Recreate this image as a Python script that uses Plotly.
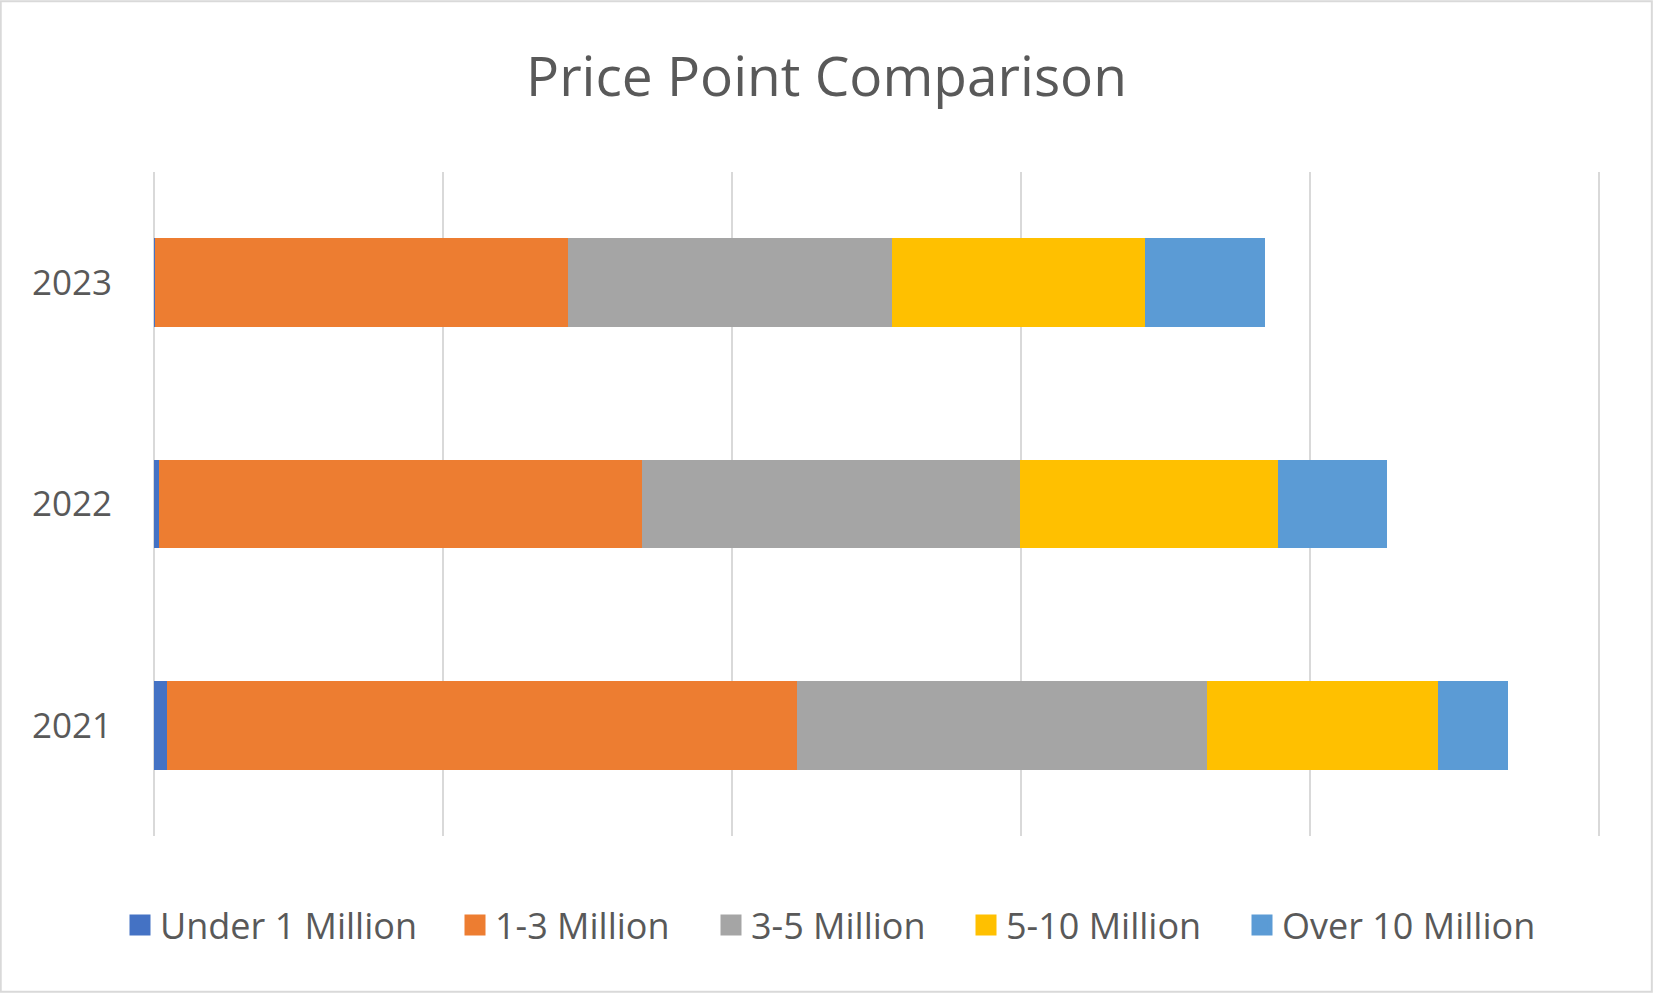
import plotly.graph_objects as go

years = ["2021", "2022", "2023"]
series_names = ["Under 1 Million", "1-3 Million", "3-5 Million", "5-10 Million", "Over 10 Million"]
under_1m = [4.4, 1.8, 0.4]
m1_3 = [218, 167, 143]
m3_5 = [142, 131, 112]
m5_10 = [80, 89, 87.5]
over_10m = [24, 38, 41.5]
colors = ["#4472C4", "#ED7D31", "#A5A5A5", "#FFC000", "#5B9BD5"]

W, H = 1653, 993
ml, mr, mt, mb = 153, 53, 172, 157
pw, ph = W - ml - mr, H - mt - mb

# legend marker centres (pixels)
legend_px = [140, 475, 731, 986, 1262]
legend_ids = ["legend", "legend2", "legend3", "legend4", "legend5"]

fig = go.Figure()
for name, vals, col in zip(series_names, [under_1m, m1_3, m3_5, m5_10, over_10m], colors):
    fig.add_trace(go.Bar(y=years, x=vals, name=name, orientation="h", showlegend=False,
                         marker=dict(color=col, line=dict(width=0))))
for name, col, lid in zip(series_names, colors, legend_ids):
    fig.add_trace(go.Scatter(x=[None], y=[None], mode="markers", name=name, legend=lid,
                             marker=dict(symbol="square", size=16, color=col,
                                         line=dict(color=col, width=5))))

legend_y = (836 - 925) / ph
legend_layout = {}
for lid, px in zip(legend_ids, legend_px):
    legend_layout[lid] = dict(orientation="h", x=(px - 20 - ml) / pw, xanchor="left",
                              y=legend_y, yanchor="middle", bgcolor="rgba(0,0,0,0)",
                              font=dict(size=36, color="#595959"), itemwidth=30)

fig.update_layout(
    barmode="stack",
    bargap=0.6,
    width=W, height=H,
    margin=dict(l=ml, r=mr, t=mt, b=mb),
    paper_bgcolor="white", plot_bgcolor="white",
    font=dict(family="Open Sans", color="#595959"),
    title=dict(text="Price Point Comparison", x=0.5, xanchor="center",
               y=1 - 77 / H, yanchor="middle",
               font=dict(size=55, color="#595959", family="Open Sans")),
    xaxis=dict(range=[-0.4, 500.4], dtick=100, tick0=0, showticklabels=False, showgrid=True,
               gridcolor="#D9D9D9", gridwidth=2, zeroline=False, showline=False, ticks=""),
    yaxis=dict(showgrid=False, zeroline=False, showline=False, ticks="",
               tickfont=dict(size=35, color="#595959"), ticklabelstandoff=40),
    showlegend=True,
    **legend_layout,
)
fig.add_shape(type="rect", xref="paper", yref="paper",
              x0=-ml / pw + 0.0005, x1=1 + mr / pw - 0.0008,
              y0=-mb / ph + 0.002, y1=1 + mt / ph - 0.002,
              line=dict(color="#D9D9D9", width=2), fillcolor="rgba(0,0,0,0)", layer="below")
fig.write_html("out.html", config={"displayModeBar": False},
               post_script="document.body.style.margin='0px';document.body.style.overflow='hidden';")
